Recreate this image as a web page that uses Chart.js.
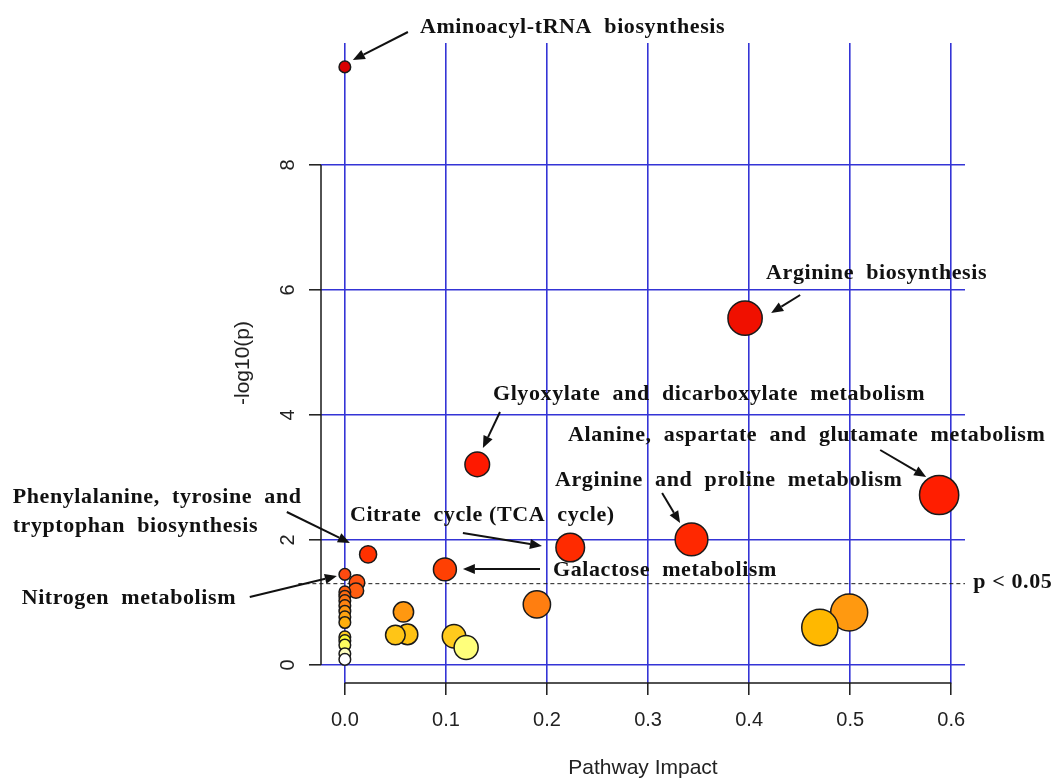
<!DOCTYPE html>
<html>
<head>
<meta charset="utf-8">
<script src="https://cdn.jsdelivr.net/npm/chart.js@4.4.0/dist/chart.umd.min.js"></script>
<style>
  html, body { margin: 0; padding: 0; background: #fff; }
  canvas { display: block; }
</style>
</head>
<body>
<canvas id="impact_chart" width="1058" height="778"></canvas>
<script>
// Pathway analysis: impact (x) against -log10(p) (y), one entry per pathway,
// ordered by -log10(p) so the lower circles sit on top of the upper ones.
const impact = [
    0, 0.396, 0.131, 0.588, 0.343, 0.223, 0.023, 0.099, 0, 0.012,
    0.011, 0, 0, 0, 0.19, 0, 0.058, 0.499, 0, 0,
    0.47, 0.062, 0.05, 0.108, 0, 0, 0, 0.12, 0, 0, 0
];
const logP = [
    9.57, 5.55, 3.21, 2.72, 2.01, 1.88, 1.77, 1.53, 1.45, 1.32,
    1.19, 1.17, 1.10, 1.03, 0.97, 0.95, 0.85, 0.84, 0.86, 0.77,
    0.60, 0.49, 0.48, 0.46, 0.68, 0.45, 0.39, 0.28, 0.32, 0.18, 0.09
];

const xTicks = [0, 0.1, 0.2, 0.3, 0.4, 0.5, 0.6];
const yTicks = [0, 2, 4, 6, 8];
const pCutoff = 0.05;

// labelled pathways: text lines, label anchor (left, middle), arrow tail and head, in data units
const noteLines = [
    ['Aminoacyl-tRNA  biosynthesis'],
    ['Arginine  biosynthesis'],
    ['Glyoxylate  and  dicarboxylate  metabolism'],
    ['Alanine,  aspartate  and  glutamate  metabolism'],
    ['Arginine  and  proline  metabolism'],
    ['Citrate  cycle (TCA  cycle)'],
    ['Galactose  metabolism'],
    ['Phenylalanine,  tyrosine  and', 'tryptophan  biosynthesis'],
    ['Nitrogen  metabolism']
];
const noteAnchor = [
    [0.0743, 10.21], [0.4168, 6.27], [0.1465, 4.336], [0.2208, 3.68], [0.2079, 2.96],
    [0.005, 2.40], [0.2059, 1.52], [-0.3287, 2.688], [-0.3198, 1.072]
];
const arrowFrom = [
    [0.0624, 10.128], [0.4505, 5.92], [0.1535, 4.048], [0.5297, 3.44], [0.3139, 2.752],
    [0.1168, 2.112], [0.1931, 1.536], [-0.0574, 2.448], [-0.0941, 1.088]
];
const arrowTo = [
    [0.0079, 9.68], [0.4218, 5.632], [0.1366, 3.472], [0.5752, 3.008], [0.3317, 2.272],
    [0.195, 1.904], [0.1168, 1.536], [0.005, 1.952], [-0.0079, 1.424]
];

// heat colours from white (weak) to red (strong), keyed on -log10(p)
const heatStops = [
    [0.09, [255, 255, 255]], [0.18, [255, 255, 192]], [0.25, [255, 255, 144]],
    [0.32, [255, 255, 96]], [0.39, [255, 250, 48]], [0.45, [255, 204, 32]],
    [0.5, [255, 192, 16]], [0.6, [255, 184, 0]], [0.7, [255, 172, 16]],
    [0.85, [255, 152, 16]], [1.0, [255, 120, 16]], [1.2, [255, 92, 16]],
    [1.45, [255, 74, 16]], [1.55, [255, 62, 0]], [1.9, [255, 42, 0]],
    [3.0, [255, 26, 0]], [9.6, [216, 0, 0]]
];

function heatColour(v) {
    if (v <= heatStops[0][0]) return 'rgb(' + heatStops[0][1].join(',') + ')';
    for (let i = 1; i < heatStops.length; i++) {
        const [v1, c1] = heatStops[i];
        if (v <= v1) {
            const [v0, c0] = heatStops[i - 1];
            const t = (v - v0) / (v1 - v0);
            const c = c0.map((a, k) => Math.round(a + (c1[k] - a) * t));
            return 'rgb(' + c.join(',') + ')';
        }
    }
    return 'rgb(' + heatStops[heatStops.length - 1][1].join(',') + ')';
}

// circle size grows with pathway impact
const radiusFor = imp => 5.8 + 18 * Math.sqrt(imp);

const points = impact.map((x, i) => ({ x: x, y: logP[i] }));

const SERIF_BOLD = 'bold 22px "Liberation Serif", "Times New Roman", serif';
const SANS = '"Liberation Sans", Arial, sans-serif';

function drawArrow(ctx, x1, y1, x2, y2) {
    const ang = Math.atan2(y2 - y1, x2 - x1);
    const len = 12, half = 5;
    const bx = x2 - len * Math.cos(ang), by = y2 - len * Math.sin(ang);
    ctx.beginPath();
    ctx.moveTo(x1, y1);
    ctx.lineTo(bx, by);
    ctx.stroke();
    ctx.beginPath();
    ctx.moveTo(x2, y2);
    ctx.lineTo(bx + half * Math.sin(ang), by - half * Math.cos(ang));
    ctx.lineTo(bx - half * Math.sin(ang), by + half * Math.cos(ang));
    ctx.closePath();
    ctx.fill();
}

const pathwayOverlay = {
    id: 'pathwayOverlay',
    beforeDatasetsDraw(chart) {
        const { ctx, chartArea } = chart;
        const xs = chart.scales.x, ys = chart.scales.y;
        ctx.save();
        // R-style axis lines, spanning first to last tick
        ctx.strokeStyle = '#1a1a1a';
        ctx.lineWidth = 1.5;
        ctx.beginPath();
        ctx.moveTo(xs.getPixelForValue(xTicks[0]), chartArea.bottom);
        ctx.lineTo(xs.getPixelForValue(xTicks[xTicks.length - 1]), chartArea.bottom);
        ctx.moveTo(chartArea.left, ys.getPixelForValue(yTicks[0]));
        ctx.lineTo(chartArea.left, ys.getPixelForValue(yTicks[yTicks.length - 1]));
        ctx.stroke();

        // significance cut-off
        const yCut = ys.getPixelForValue(-Math.log10(pCutoff));
        ctx.lineWidth = 1;
        ctx.setLineDash([4, 3]);
        ctx.beginPath();
        ctx.moveTo(xs.getPixelForValue(-0.046), yCut);
        ctx.lineTo(chartArea.right, yCut);
        ctx.stroke();
        ctx.restore();
    },
    afterDraw(chart) {
        const { ctx, chartArea } = chart;
        const xs = chart.scales.x, ys = chart.scales.y;
        ctx.save();

        // axis titles
        ctx.fillStyle = '#222';
        ctx.font = '21px ' + SANS;
        ctx.textAlign = 'center';
        ctx.textBaseline = 'middle';
        ctx.fillText('Pathway Impact', (chartArea.left + chartArea.right) / 2, 768);
        ctx.save();
        ctx.translate(243, (chartArea.top + chartArea.bottom) / 2);
        ctx.rotate(-Math.PI / 2);
        ctx.fillText('-log10(p)', 0, 0);
        ctx.restore();

        // pathway labels and arrows
        ctx.fillStyle = '#111';
        ctx.strokeStyle = '#111';
        ctx.lineWidth = 2;
        ctx.font = SERIF_BOLD;
        ctx.letterSpacing = '0.6px';
        ctx.textAlign = 'left';
        noteLines.forEach((lines, i) => {
            const lx = xs.getPixelForValue(noteAnchor[i][0]);
            const ly = ys.getPixelForValue(noteAnchor[i][1]);
            lines.forEach((t, k) => ctx.fillText(t, lx, ly + k * 29));
            drawArrow(ctx,
                xs.getPixelForValue(arrowFrom[i][0]), ys.getPixelForValue(arrowFrom[i][1]),
                xs.getPixelForValue(arrowTo[i][0]), ys.getPixelForValue(arrowTo[i][1]));
        });
        ctx.fillText('p < 0.05', xs.getPixelForValue(0.6218), ys.getPixelForValue(-Math.log10(pCutoff)) - 1);
        ctx.restore();
    }
};

const gridBlue = '#3434d6';

new Chart(document.getElementById('impact_chart'), {
    type: 'scatter',
    data: {
        datasets: [{
            data: points,
            pointRadius: c => radiusFor(c.raw.x),
            pointBackgroundColor: c => heatColour(c.raw.y),
            pointBorderColor: '#1a1a1a',
            pointBorderWidth: 1.5,
            pointHoverRadius: c => radiusFor(c.raw.x)
        }]
    },
    options: {
        responsive: false,
        animation: false,
        events: [],
        layout: { padding: { top: 43, right: 93, bottom: 0, left: 0 } },
        plugins: { legend: { display: false }, tooltip: { enabled: false } },
        scales: {
            x: {
                type: 'linear',
                min: -0.0236,
                max: 0.6136,
                afterBuildTicks: s => { s.ticks = xTicks.map(v => ({ value: v })); },
                afterFit: s => { s.height = 95; },
                border: { display: false },
                grid: { color: gridBlue, lineWidth: 1.6, tickColor: '#1a1a1a', tickLength: 12, tickWidth: 1.5 },
                ticks: {
                    color: '#222',
                    font: { family: SANS, size: 20 },
                    padding: 13,
                    maxRotation: 0,
                    callback: v => v.toFixed(1)
                }
            },
            y: {
                type: 'linear',
                min: -0.288,
                max: 9.952,
                afterBuildTicks: s => { s.ticks = yTicks.map(v => ({ value: v })); },
                afterFit: s => { s.width = 321; },
                border: { display: false },
                grid: { color: gridBlue, lineWidth: 1.6, tickColor: '#1a1a1a', tickLength: 12, tickWidth: 1.5 },
                ticks: {
                    color: '#222',
                    font: { family: SANS, size: 20 },
                    padding: 15,
                    minRotation: 90,
                    maxRotation: 90,
                    crossAlign: 'center',
                    callback: v => String(v)
                }
            }
        }
    },
    plugins: [pathwayOverlay]
});
</script>
</body>
</html>
